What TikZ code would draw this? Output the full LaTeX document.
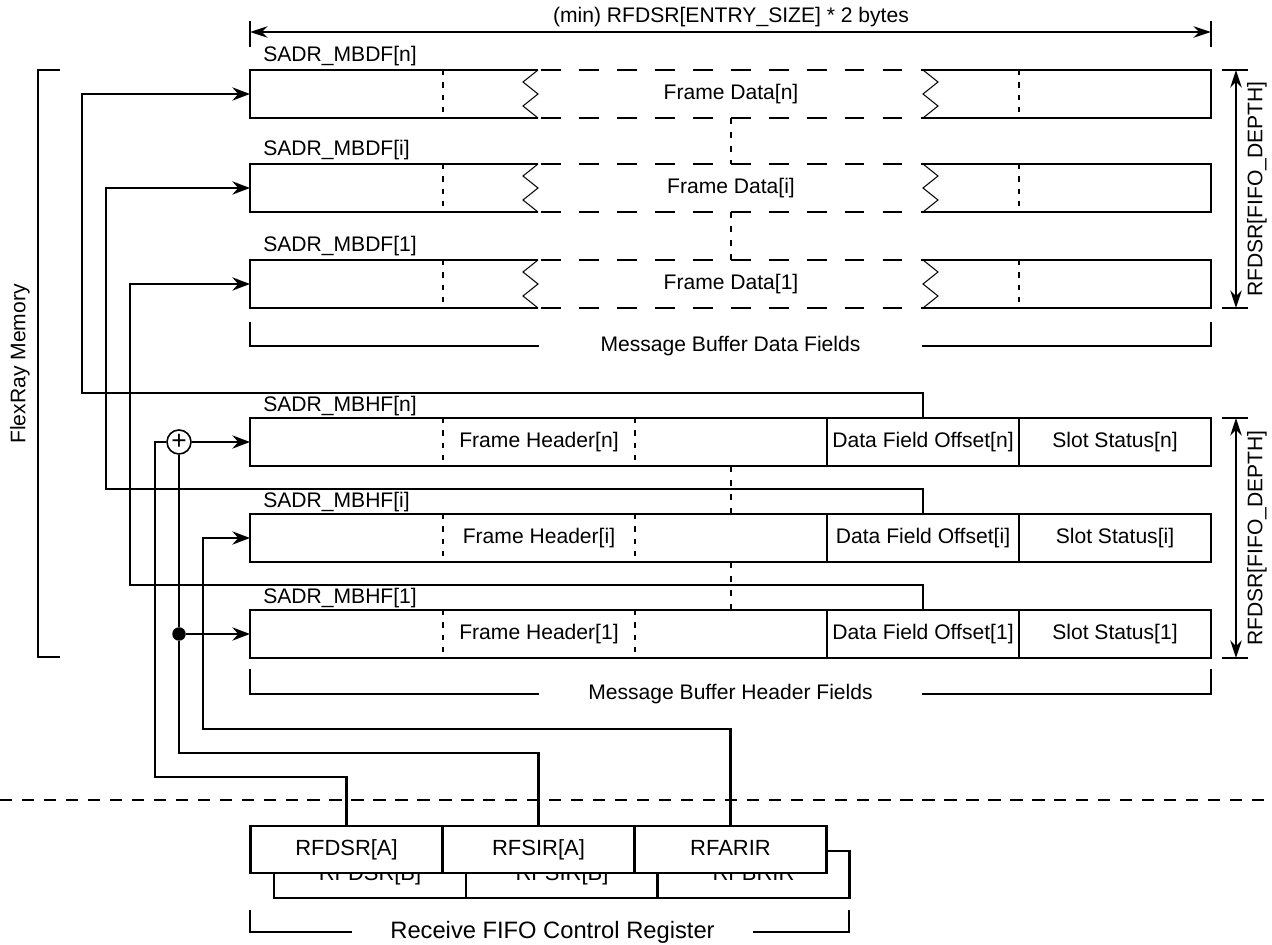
\documentclass[tikz,border=0pt]{standalone}
\usepackage{fontspec}
\setmainfont{Liberation Sans}
\usetikzlibrary{arrows.meta, positioning, calc}

\tikzset{
  lbl/.style={font=\fontsize{12}{14}\selectfont, inner sep=0pt},
  cellbox/.style={draw, line width=1.3pt, minimum width=3.84cm, minimum height=0.96cm, inner sep=0pt, font=\fontsize{12}{14}\selectfont},
  rowbox/.style={draw, line width=1.3pt, minimum width=19.22cm, minimum height=0.96cm, inner sep=0pt},
  regbox/.style={draw, line width=1.3pt, fill=white, minimum width=3.84cm, minimum height=0.94cm, inner sep=0pt, text height=0.72em, text depth=0em, font=\fontsize{12.5}{14}\selectfont},
  brklbl/.style={font=\fontsize{12}{14}\selectfont, inner sep=0pt, minimum width=7.66cm},
  link/.style={line width=1.3pt},
  linkarrow/.style={line width=1.3pt, -{Stealth[length=10pt, width=7.5pt]}},
  dimline/.style={line width=1.3pt, {Stealth[length=10pt, width=6.5pt]}-{Stealth[length=10pt, width=6.5pt]}},
  gapdash/.style={line width=1.3pt, dash pattern=on 3pt off 4pt},
  rowdots/.style={line width=1.6pt, dash pattern=on 3.5pt off 4.5pt},
  longdash/.style={line width=1.3pt, dash pattern=on 11.3pt off 10.3pt},
  zig/.style={line width=0.6pt},
}

\begin{document}
\begin{tikzpicture}[x=0.02cm, y=-0.02cm]
  \useasboundingbox (0,0) rectangle (1272,945);

  % message buffer data fields
  \foreach \y/\idx/\rx in {70/n/82, 164/i/106, 260/1/130} {
    \draw[link] (538,\y) -- (250,\y) -- (250,\y+48) -- (538,\y+48);
    \draw[link] (923,\y) -- (1211,\y) -- (1211,\y+48) -- (923,\y+48);
    \draw[zig] (538,\y) -- (523,\y+12) -- (538,\y+24) -- (523,\y+36) -- (538,\y+48);
    \draw[zig] (923,\y) -- (938,\y+12) -- (923,\y+24) -- (938,\y+36) -- (923,\y+48);
    \draw[longdash] (541,\y) -- (923,\y);
    \draw[longdash] (541,\y+48) -- (923,\y+48);
    \draw[gapdash] (443,\y) -- (443,\y+48);
    \draw[gapdash] (1019,\y) -- (1019,\y+48);
    \node[lbl] (fd-\idx) at (731,\y+24) {Frame Data[\idx]};
    \node[lbl, anchor=base west] (mbdf-\idx) at (263,\y-8) {SADR\_MBDF[\idx]};
    \coordinate (din-\idx) at (250,\y+24);
    \coordinate (rail-\idx) at (\rx,\y+24);
  }

  % message buffer header fields
  \foreach \y/\idx in {418/n, 514/i, 610/1} {
    \node[rowbox] (hdr-\idx) at (730.5,\y+24) {};
    \node[lbl] (fh-\idx) at (539,\y+24) {Frame Header[\idx]};
    \node[cellbox] (dfo-\idx) at (923,\y+24) {Data Field Offset[\idx]};
    \node[cellbox] (slot-\idx) at (1115,\y+24) {Slot Status[\idx]};
    \draw[gapdash] (443,\y) -- (443,\y+48);
    \draw[gapdash] (635,\y) -- (635,\y+48);
    \node[lbl, anchor=base west] (mbhf-\idx) at (263,\y-6) {SADR\_MBHF[\idx]};
    \coordinate (hin-\idx) at (250,\y+24);
    \draw[linkarrow] (dfo-\idx.north) -- ++(0,-24) -| (rail-\idx) -- (din-\idx);
  }

  \foreach \a/\b in {118/164, 212/260, 466/514, 562/610}
    \draw[rowdots] (731,\a) -- (731,\b);

  % receive fifo control registers
  \foreach \x/\name/\txt in {370/rfdsr-b/RFDSR[B], 562/rfsir-b/RFSIR[B], 753.5/rfbrir/RFBRIR}
    \node[regbox] (\name) at (\x,874.5) {\txt};
  \foreach \x/\name/\txt in {346.5/rfdsr-a/RFDSR[A], 538.5/rfsir-a/RFSIR[A], 730.5/rfarir/RFARIR}
    \node[regbox] (\name) at (\x,849.5) {\txt};

  \draw[line width=1.3pt, dash pattern=on 7pt off 5.5pt] (0,800) -- (1272,800);

  % address paths
  \node[circle, draw, line width=0.9pt, minimum size=0.48cm, inner sep=0pt, font=\fontsize{15}{15}\selectfont] (sum) at (179,442) {+};
  \node[circle, fill, minimum size=0.27cm, inner sep=0pt] (tap) at (179,634) {};
  \coordinate (sumfeed) at (155,442);
  \coordinate (hrail-i) at (203,538);
  \draw[link] (rfdsr-a.north) -- ++(0,-48) -| (sumfeed) -- (sum);
  \draw[link] (rfsir-a.north) -- ++(0,-72) -| (tap) -- (sum);
  \draw[linkarrow] (sum) -- (hin-n);
  \draw[linkarrow] (tap) -- (hin-1);
  \draw[linkarrow] (rfarir.north) -- ++(0,-96) -| (hrail-i) -- (hin-i);

  % brackets
  \node[brklbl] (mbdf-brk) at (730.5,346) {Message Buffer Data Fields};
  \draw[link] (250,322) |- (mbdf-brk.west);
  \draw[link] (1211,322) |- (mbdf-brk.east);
  \node[brklbl] (mbhf-brk) at (730.5,694) {Message Buffer Header Fields};
  \draw[link] (250,669) |- (mbhf-brk.west);
  \draw[link] (1211,669) |- (mbhf-brk.east);
  \node[brklbl, minimum width=8.02cm, font=\fontsize{13.5}{16}\selectfont] (rfcr-brk) at (552.5,932) {Receive FIFO Control Register};
  \draw[link] (250,910) |- (rfcr-brk.west);
  \draw[link] (849,910) |- (rfcr-brk.east);
  \draw[link] (60,70) -- (38,70) -- (38,657) -- (60,657);
  \node[lbl, rotate=90] (mem-lbl) at (20,364) {FlexRay Memory};

  % dimensions
  \coordinate (wl) at (250,32);
  \coordinate (wr) at (1211,32);
  \draw[dimline] (wl) -- (wr);
  \draw[link] (250,21) -- (250,47);
  \draw[link] (1211,21) -- (1211,47);
  \node[lbl] (width-lbl) at (731,17) {(min) RFDSR[ENTRY\_SIZE] * 2 bytes};
  \foreach \ya/\yb/\nm in {70/308/ddepth, 418/658/hdepth} {
    \coordinate (\nm-a) at (1236,\ya);
    \coordinate (\nm-b) at (1236,\yb);
    \draw[dimline] (\nm-a) -- (\nm-b);
    \draw[link] (1222,\ya) -- (1248,\ya);
    \draw[link] (1222,\yb) -- (1248,\yb);
    \node[lbl, rotate=90] (\nm-lbl) at (1257,{(\ya+\yb)/2}) {RFDSR[FIFO\_DEPTH]};
  }
\end{tikzpicture}
\end{document}
